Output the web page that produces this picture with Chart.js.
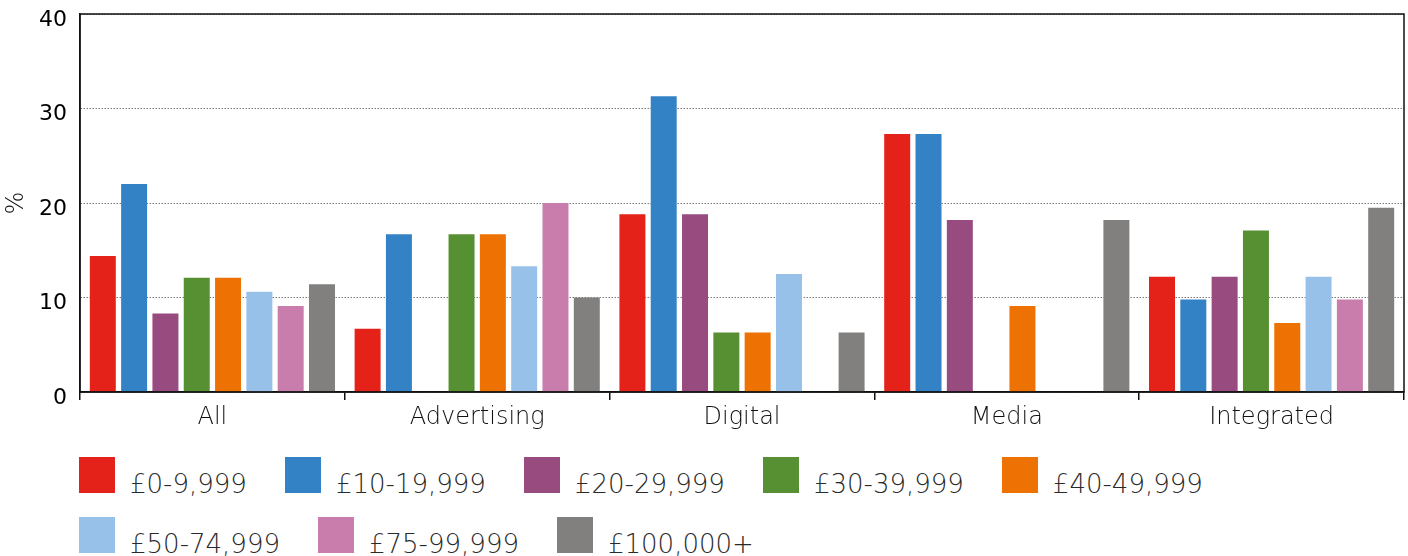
<!DOCTYPE html>
<html>
<head>
<meta charset="utf-8">
<script src="https://cdn.jsdelivr.net/npm/chart.js@4"></script>
<style>
  html, body { margin: 0; padding: 0; background: #fff; }
  body { width: 1408px; height: 556px; position: relative; overflow: hidden; font-family: "DejaVu Sans", sans-serif; }
  #wrap { position: absolute; left: 0; top: 0; width: 1408px; height: 445px; }
  #legend { position: absolute; left: 79px; top: 457px; width: 1250px; display: flex; flex-wrap: wrap; column-gap: 38px; row-gap: 24px; }
  .item { display: flex; align-items: baseline; height: 36px; }
  .swatch { width: 36px; height: 36px; margin-right: 15px; }
  .label { font-size: 26px; color: #2a2a2a; font-weight: 300; }
</style>
</head>
<body>
<div id="wrap"><canvas id="myChart"></canvas></div>
<div id="legend"></div>
<script>
const categories = ["All", "Advertising", "Digital", "Media", "Integrated"];
const bands = ["£0-9,999", "£10-19,999", "£20-29,999", "£30-39,999", "£40-49,999", "£50-74,999", "£75-99,999", "£100,000+"];
const colors = ["#e5221a", "#3382c5", "#974b7e", "#578f33", "#ed7203", "#97c1e8", "#c97dac", "#81807e"];

// share of respondents (%) per salary band, in category order
const band0to10k = [14.4, 6.7, 18.8, 27.3, 12.2];
const band10to20k = [22.0, 16.7, 31.3, 27.3, 9.8];
const band20to30k = [8.3, 0, 18.8, 18.2, 12.2];
const band30to40k = [12.1, 16.7, 6.3, 0, 17.1];
const band40to50k = [12.1, 16.7, 6.3, 9.1, 7.3];
const band50to75k = [10.6, 13.3, 12.5, 0, 12.2];
const band75to100k = [9.1, 20.0, 0, 0, 9.8];
const band100kPlus = [11.4, 10.0, 6.3, 18.2, 19.5];

const yTicks = [0, 10, 20, 30, 40];

const series = [band0to10k, band10to20k, band20to30k, band30to40k, band40to50k, band50to75k, band75to100k, band100kPlus];

// box round the plot area (top and right edges too)
const frame = {
  id: "frame",
  afterDraw(chart) {
    const { ctx, chartArea: a } = chart;
    ctx.save();
    ctx.strokeStyle = "#111";
    ctx.lineWidth = 1.5;
    ctx.setLineDash([]);
    ctx.strokeRect(a.left, a.top, a.right - a.left, a.bottom - a.top);
    ctx.restore();
  },
};

const ctx = document.getElementById("myChart");

new Chart(ctx, {
  type: "bar",
  data: {
    labels: categories,
    datasets: series.map((values, i) => ({
      label: bands[i],
      data: values,
      backgroundColor: colors[i],
      borderWidth: 0,
      categoryPercentage: 0.946,
      barPercentage: 0.83,
    })),
  },
  options: {
    responsive: true,
    maintainAspectRatio: false,
    animation: false,
    layout: { padding: { top: 14, right: 4, left: 0, bottom: 0 } },
    plugins: {
      legend: { display: false },
      tooltip: { enabled: false },
    },
    scales: {
      x: {
        offset: true,
        grid: {
          offset: true,
          drawOnChartArea: false,
          drawTicks: true,
          tickLength: 8,
          color: "#111",
          lineWidth: 1.5,
        },
        border: { color: "#111", width: 1.5 },
        ticks: {
          padding: 3,
          color: "#111",
          font: { family: "DejaVu Sans", size: 24, weight: 300 },
        },
        afterFit(scale) {
          scale.height = 53;
          scale.paddingLeft = 0;
          scale.paddingRight = 0;
        },
      },
      y: {
        min: 0,
        max: 40,
        afterBuildTicks(scale) {
          scale.ticks = yTicks.map((v) => ({ value: v }));
        },
        grid: {
          drawTicks: false,
          color: "#7a7a7a",
          lineWidth: 1,
        },
        border: { color: "#111", width: 1.5, dash: [1.5, 1.5] },
        ticks: {
          padding: 13,
          labelOffset: 6,
          color: "#000",
          font: { family: "DejaVu Sans", size: 22 },
        },
        title: {
          display: true,
          text: "%",
          color: "#111",
          padding: { top: 2, bottom: 0 },
          font: { family: "DejaVu Sans", size: 24, weight: 300 },
        },
        afterFit(scale) {
          scale.width = 80;
          scale.paddingTop = 0;
          scale.paddingBottom = 0;
        },
      },
    },
  },
  plugins: [frame],
});

// legend rows below the chart
const legend = document.getElementById("legend");
bands.forEach((name, i) => {
  const item = document.createElement("div");
  item.className = "item";
  const sw = document.createElement("span");
  sw.className = "swatch";
  sw.style.background = colors[i];
  const tx = document.createElement("span");
  tx.className = "label";
  tx.textContent = name;
  item.appendChild(sw);
  item.appendChild(tx);
  legend.appendChild(item);
});
</script>
</body>
</html>
